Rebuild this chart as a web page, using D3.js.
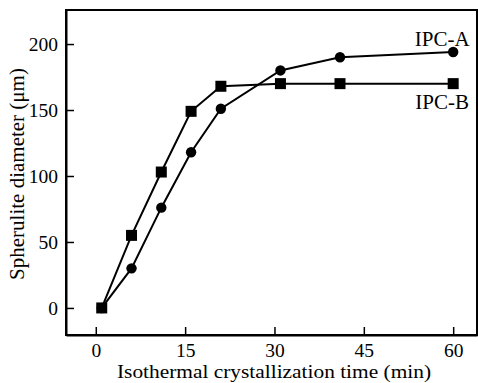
<!DOCTYPE html>
<html>
<head>
<meta charset="utf-8">
<script src="https://cdn.jsdelivr.net/npm/d3@7"></script>
<style>
  body { margin: 0; background: #fff; }
  svg text { font-family: "Liberation Serif", "Times New Roman", serif; fill: #000; }
</style>
</head>
<body>
<div id="chart"></div>
<script>
// isothermal crystallization time (min)
var timeA = [1, 6, 11, 16, 21, 31, 41, 60];
var diamA = [0, 30, 76, 118, 151, 180, 190, 194];
var timeB = [1, 6, 11, 16, 21, 31, 41, 60];
var diamB = [0, 55, 103, 149, 168, 170, 170, 170];
var xTicks = [0, 15, 30, 45, 60];
var yTicks = [0, 50, 100, 150, 200];

var width = 478, height = 383;
var margin = {left: 66, right: 1, top: 10, bottom: 48};

var svg = d3.select('#chart')
    .append('svg')
    .attr('width', width)
    .attr('height', height);

var x = d3.scaleLinear().domain([-5, 64]).range([margin.left, width - margin.right]);
var y = d3.scaleLinear().domain([-20.5, 225.8]).range([height - margin.bottom, margin.top]);

// frame
svg.append('rect')
    .attr('x', margin.left)
    .attr('y', margin.top)
    .attr('width', width - margin.right - margin.left)
    .attr('height', height - margin.bottom - margin.top)
    .attr('fill', 'none')
    .attr('stroke', '#000')
    .attr('stroke-width', 2);

var xAxis = svg.append('g')
    .attr('transform', 'translate(0,' + (height - margin.bottom) + ')')
    .call(d3.axisBottom(x).tickValues(xTicks).tickSizeInner(-8).tickSizeOuter(0).tickPadding(14));
var yAxis = svg.append('g')
    .attr('transform', 'translate(' + margin.left + ',0)')
    .call(d3.axisLeft(y).tickValues(yTicks).tickSizeInner(-8).tickSizeOuter(0).tickPadding(8));

[xAxis, yAxis].forEach(function(a) {
    a.select('.domain').attr('stroke-width', 2);
    a.selectAll('.tick line').attr('stroke-width', 1.5);
    a.selectAll('.tick text').attr('font-size', 19.5).attr('font-family', '"Liberation Serif", serif');
});
// baseline near y = 357
xAxis.selectAll('.tick text').attr('dy', null).attr('y', 22);

var line = d3.line()
    .x(function(d) { return x(d[0]); })
    .y(function(d) { return y(d[1]); });

var ptsA = d3.zip(timeA, diamA);
var ptsB = d3.zip(timeB, diamB);

svg.append('path').datum(ptsA).attr('d', line)
    .attr('fill', 'none').attr('stroke', '#000').attr('stroke-width', 2);
svg.append('path').datum(ptsB).attr('d', line)
    .attr('fill', 'none').attr('stroke', '#000').attr('stroke-width', 2);

svg.selectAll('circle.a').data(ptsA).enter().append('circle')
    .attr('class', 'a')
    .attr('cx', function(d) { return x(d[0]); })
    .attr('cy', function(d) { return y(d[1]); })
    .attr('r', 5.2)
    .attr('fill', '#000');

svg.selectAll('rect.b').data(ptsB).enter().append('rect')
    .attr('class', 'b')
    .attr('x', function(d) { return x(d[0]) - 5.5; })
    .attr('y', function(d) { return y(d[1]) - 5.5; })
    .attr('width', 11)
    .attr('height', 11)
    .attr('fill', '#000');

// series labels
svg.append('text')
    .attr('x', x(60) - 11).attr('y', y(diamA[diamA.length - 1]) - 6)
    .attr('text-anchor', 'middle').attr('font-size', 21)
    .text('IPC-A');
svg.append('text')
    .attr('x', x(60) - 11).attr('y', y(diamB[diamB.length - 1]) + 25)
    .attr('text-anchor', 'middle').attr('font-size', 21)
    .text('IPC-B');

// axis titles
svg.append('text')
    .attr('x', 274)
    .attr('y', 378)
    .attr('text-anchor', 'middle').attr('font-size', 19)
    .attr('textLength', 314).attr('lengthAdjust', 'spacingAndGlyphs')
    .text('Isothermal crystallization time (min)');
svg.append('text')
    .attr('transform', 'translate(24,174)rotate(-90)')
    .attr('text-anchor', 'middle').attr('font-size', 21)
    .text('Spherulite diameter (μm)');
</script>
</body>
</html>
